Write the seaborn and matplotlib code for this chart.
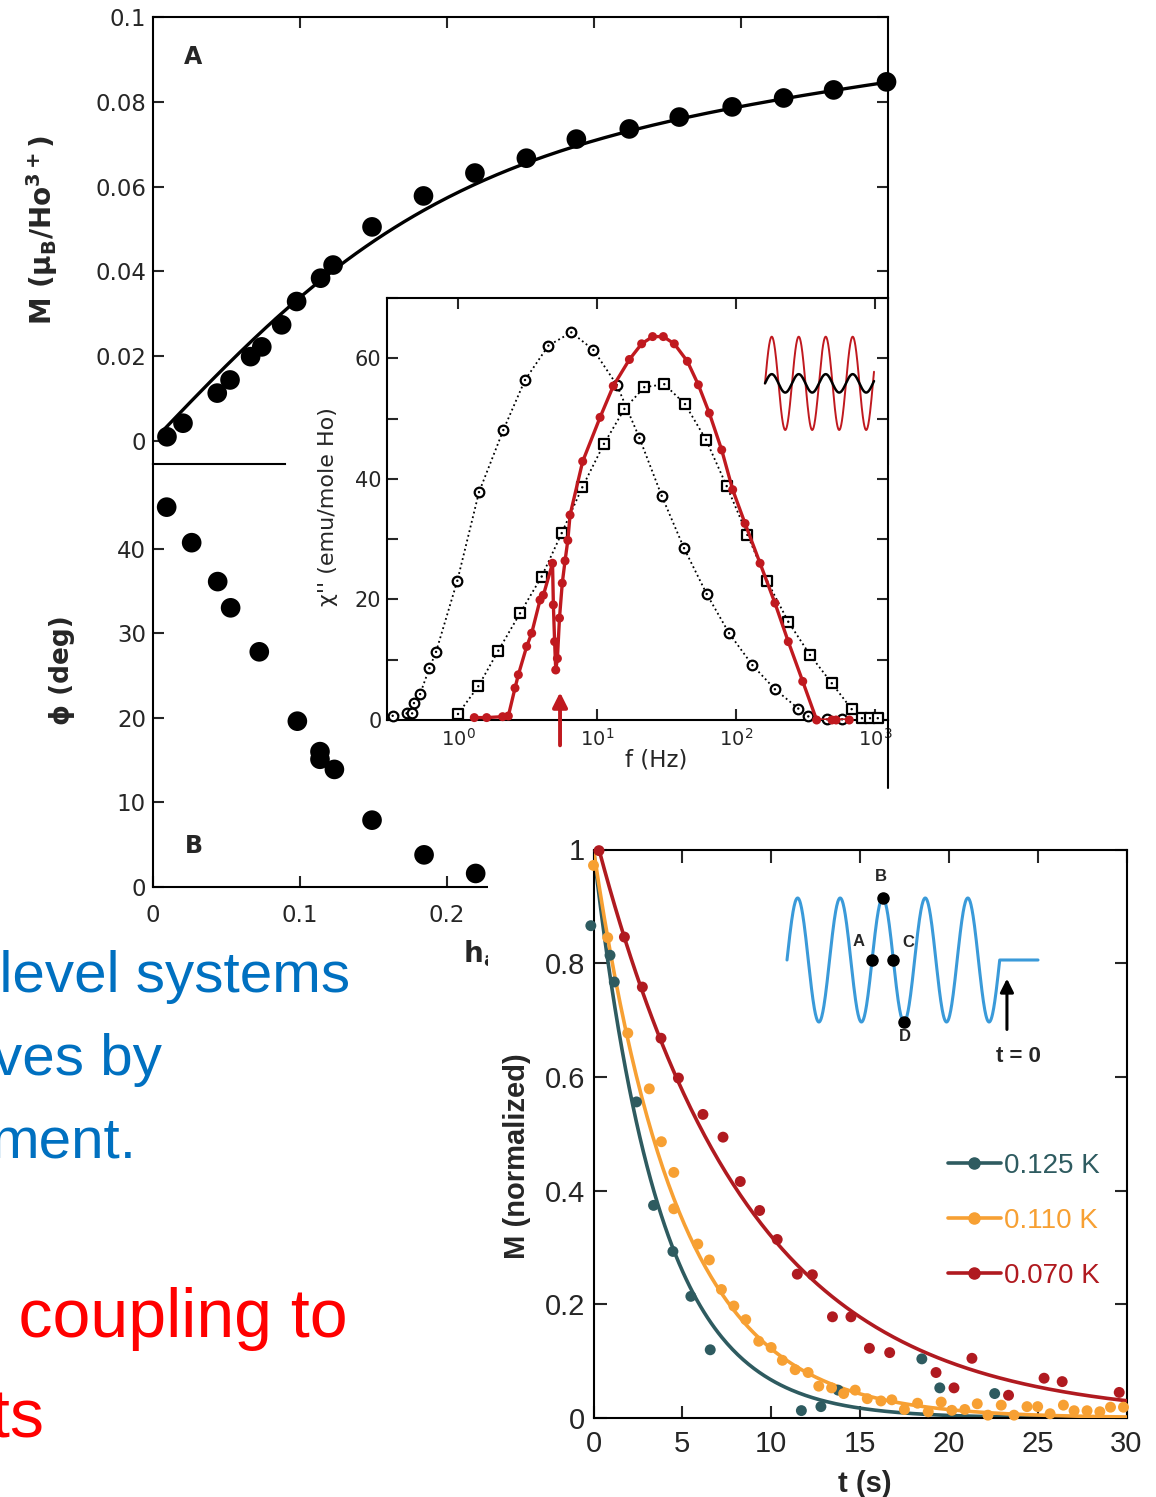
import numpy as np
import matplotlib
matplotlib.use("Agg")
import matplotlib.pyplot as plt
from matplotlib.lines import Line2D
from matplotlib.patches import Rectangle
from matplotlib.ticker import NullLocator
import seaborn as sns

# ---------------- data ----------------
# Panel A: magnetization vs ac field amplitude
h_A = [0.0095, 0.0204, 0.0437, 0.0524, 0.0664, 0.074, 0.0875, 0.0977, 0.114, 0.1225,
       0.149, 0.184, 0.219, 0.254, 0.288, 0.324, 0.358, 0.394, 0.429, 0.463, 0.499]
M_A = [0.001, 0.0042, 0.0113, 0.0144, 0.0199, 0.0222, 0.0274, 0.0329, 0.0384, 0.0415,
       0.0505, 0.0578, 0.0632, 0.0667, 0.0712, 0.0736, 0.0764, 0.0788, 0.0809, 0.0828, 0.0847]
# fitted model  M = a*tanh(b*h) + c*h
fit_a, fit_b, fit_c = 0.064, 5.0, 0.043

# Panel B: phase lag
h_B = [0.0093, 0.0263, 0.044, 0.0528, 0.0723, 0.0982, 0.1136, 0.1136, 0.1234, 0.149, 0.1844, 0.2195]
phi_B = [44.9, 40.7, 36.1, 33.0, 27.8, 19.6, 16.0, 15.1, 13.9, 7.9, 3.8, 1.6]

# chi'' spectra (log10 of frequency in Hz)
circ_log_f = [-0.47, -0.37, -0.33, -0.317, -0.273, -0.206, -0.158, -0.005, 0.151, 0.326, 0.482,
              0.65, 0.815, 0.974, 1.142, 1.305, 1.465, 1.626, 1.789, 1.95, 2.118, 2.28, 2.448,
              2.52, 2.655, 2.763]
circ_chi = [0.7, 1.1, 1.1, 2.8, 4.3, 8.6, 11.3, 23.1, 37.8, 48.1, 56.4, 62.1, 64.3, 61.4, 55.6,
            46.8, 37.2, 28.5, 20.9, 14.4, 9.1, 5.1, 1.9, 0.6, 0.1, 0.1]
sq_log_f = [0.0, 0.146, 0.29, 0.446, 0.602, 0.746, 0.894, 1.05, 1.197, 1.34, 1.484, 1.633, 1.784,
            1.933, 2.082, 2.225, 2.376, 2.532, 2.689, 2.832, 2.906, 2.964, 3.02]
sq_chi = [1.0, 5.6, 11.5, 17.7, 23.8, 31.0, 38.6, 45.8, 51.6, 55.2, 55.7, 52.4, 46.5, 38.8, 30.7,
          23.0, 16.3, 10.8, 6.1, 1.8, 0.3, 0.3, 0.3]
red_log_f = [0.117, 0.206, 0.321, 0.362, 0.41, 0.434, 0.494, 0.53, 0.59, 0.614, 0.68, 0.686, 0.695,
             0.703, 0.715, 0.73, 0.75, 0.77, 0.79, 0.806, 0.897, 1.022, 1.117, 1.233, 1.321, 1.40,
             1.477, 1.556, 1.65, 1.729, 1.808, 1.897, 1.976, 2.065, 2.173, 2.28, 2.376, 2.48, 2.58,
             2.69, 2.72, 2.815]
red_chi = [0.4, 0.4, 0.55, 0.66, 5.3, 7.5, 12.2, 14.4, 19.9, 20.7, 26.0, 19.1, 13.0, 8.3, 10.2, 16.9,
           22.7, 26.4, 29.8, 34.0, 42.9, 50.2, 55.4, 59.8, 62.4, 63.6, 63.6, 62.4, 59.5, 55.6, 50.9,
           44.8, 38.2, 32.6, 26.0, 19.4, 13.0, 6.4, 0.0, 0.0, 0.0, 0.0]
pump_log_f = 0.734

# Relaxation after the drive is switched off
t_125 = [-0.15, 0.93, 1.17, 2.42, 3.38, 4.47, 5.48, 6.57, 11.7, 12.8, 13.77, 18.48, 19.49, 22.58]
M_125 = [0.866, 0.814, 0.767, 0.556, 0.374, 0.293, 0.214, 0.120, 0.013, 0.020, 0.049, 0.104, 0.053, 0.043]
t_110 = [0.0, 0.8, 1.93, 3.14, 3.82, 4.52, 4.52, 5.87, 6.52, 7.2, 7.9, 8.57, 9.3, 10.0, 10.63, 11.35,
         12.08, 12.68, 13.4, 14.08, 14.73, 15.41, 16.18, 16.79, 17.5, 18.24, 18.84, 19.57, 20.17,
         20.9, 21.6, 22.2, 22.95, 23.67, 24.4, 25.0, 25.7, 26.45, 27.05, 27.78, 28.5, 29.1, 29.83]
M_110 = [0.972, 0.845, 0.677, 0.579, 0.486, 0.432, 0.368, 0.306, 0.278, 0.226, 0.197, 0.173, 0.135,
         0.124, 0.1015, 0.085, 0.080, 0.056, 0.053, 0.043, 0.049, 0.034, 0.030, 0.032, 0.015, 0.026,
         0.011, 0.028, 0.0135, 0.015, 0.025, 0.005, 0.0226, 0.005, 0.020, 0.020, 0.0075, 0.0226,
         0.0128, 0.0128, 0.011, 0.019, 0.019]
t_070 = [0.31, 1.74, 2.75, 3.8, 4.78, 6.16, 7.29, 8.26, 9.35, 10.34, 11.47, 12.32, 13.45, 14.49,
         15.53, 16.67, 19.28, 20.29, 21.3, 23.36, 25.36, 26.38, 29.59]
M_070 = [0.998, 0.846, 0.758, 0.668, 0.598, 0.534, 0.494, 0.416, 0.365, 0.314, 0.253, 0.252, 0.178,
         0.178, 0.1226, 0.115, 0.080, 0.053, 0.105, 0.040, 0.070, 0.064, 0.045]
# exponential fits  M = A*exp(-t/tau)
temps = ["0.125 K", "0.110 K", "0.070 K"]
fit_A = [1.0, 1.0, 1.037]
fit_tau = [3.7, 4.75, 8.5]
fit_t0 = [0.0, 0.0, 0.31]

# ---------------- style ----------------
sns.set_style("ticks")
plt.rcParams["font.family"] = ["DejaVu Sans"]
plt.rcParams["mathtext.fontset"] = "dejavusans"
plt.rcParams["mathtext.default"] = "bf"
plt.rcParams["axes.linewidth"] = 1.5
plt.rcParams["axes.edgecolor"] = "black"

W, H = 1156, 1497


def box(l, t, r, b):
    return [l / W, 1 - b / H, (r - l) / W, (b - t) / H]


def fpt(x, y):
    return (x / W, 1 - y / H)


teal, orange, dred = "#2E5B60", "#F7A033", "#B01A20"
inset_red = "#C0191F"
wave_blue = "#3A9AD9"

fig = plt.figure(figsize=(W / 100, H / 100), dpi=100)
fig.patch.set_facecolor("white")

# ---------------- panel A ----------------
axA = fig.add_axes(box(153, 17, 888, 464), zorder=0)
axA.set_facecolor("none")
h_fit = np.linspace(0.006, 0.5, 300)
M_fit = fit_a * np.tanh(fit_b * h_fit) + fit_c * h_fit
sns.lineplot(x=h_fit, y=M_fit, ax=axA, color="black", lw=2.4)
sns.scatterplot(x=h_A, y=M_A, ax=axA, color="black", s=200, edgecolor="none",
                zorder=3, clip_on=False)
axA.set_xlim(0, 0.5)
axA.set_ylim(-0.00542, 0.1)
axA.set_yticks([0, 0.02, 0.04, 0.06, 0.08, 0.1])
axA.set_yticklabels(["0", "0.02", "0.04", "0.06", "0.08", "0.1"])
axA.set_xticks([0.1, 0.2, 0.3, 0.4])
axA.tick_params(axis="x", bottom=False, top=True, labelbottom=False, direction="in",
                length=8, width=1.5)
axA.tick_params(axis="y", left=True, right=True, direction="in", length=8, width=1.5,
                labelsize=16.5, pad=5)
axA.spines["bottom"].set_bounds(0, (285 - 153) / 1470)
axA.set_xlabel("")
axA.set_ylabel("")
axA.text(0.055, 0.91, "A", transform=axA.transAxes, fontsize=17, fontweight="bold",
         ha="center", va="center")

# ---------------- inset: chi'' spectra ----------------
axI = fig.add_axes(box(387, 298, 888, 720), zorder=0.3)
axI.set_facecolor("white")
axI.set_xscale("log")
f_circ = 10 ** np.array(circ_log_f)
f_sq = 10 ** np.array(sq_log_f)
f_red = 10 ** np.array(red_log_f)
sns.lineplot(x=f_circ, y=circ_chi, ax=axI, color="black", lw=1.3, linestyle=":",
             sort=False, estimator=None)
sns.lineplot(x=f_sq, y=sq_chi, ax=axI, color="black", lw=1.3, linestyle=":",
             sort=False, estimator=None)
sns.scatterplot(x=f_circ, y=circ_chi, ax=axI, marker="o", s=48, facecolor="white",
                edgecolor="black", linewidth=1.6, zorder=3, clip_on=False)
sns.scatterplot(x=f_sq, y=sq_chi, ax=axI, marker="s", s=52, facecolor="white",
                edgecolor="black", linewidth=1.6, zorder=3, clip_on=False)
sns.scatterplot(x=np.concatenate([f_circ, f_sq]), y=circ_chi + sq_chi, ax=axI,
                marker="o", s=3, color="black", edgecolor="none", zorder=4, clip_on=False)
sns.lineplot(x=f_red, y=red_chi, ax=axI, color=inset_red, lw=2.4, sort=False,
             estimator=None, zorder=5)
sns.scatterplot(x=f_red, y=red_chi, ax=axI, color=inset_red, s=42, edgecolor="none",
                zorder=6, clip_on=False)
axI.set_xlim(0.3084, 1240)
axI.set_ylim(0, 70)
axI.set_yticks(range(0, 71, 10))
axI.set_yticklabels(["0", "", "20", "", "40", "", "60", ""])
axI.set_xticks([1, 10, 100, 1000])
axI.set_xticklabels([r"$\mathrm{10^{0}}$", r"$\mathrm{10^{1}}$", r"$\mathrm{10^{2}}$",
                     r"$\mathrm{10^{3}}$"])
axI.xaxis.set_minor_locator(NullLocator())
axI.tick_params(axis="x", top=True, bottom=True, direction="in", length=8, width=1.5,
                labelsize=14, pad=6)
axI.tick_params(axis="y", left=True, right=True, direction="in", length=8, width=1.5,
                labelsize=15, pad=4)
axI.set_xlabel("")
axI.set_ylabel("")
pump_f = 10 ** pump_log_f
axI.annotate("", xy=(pump_f, 4.6), xytext=(pump_f, -4.2),
             arrowprops=dict(arrowstyle="-|>", color=inset_red, lw=2.8, mutation_scale=22,
                             shrinkA=0, shrinkB=0),
             annotation_clip=False)
fig.add_artist(Line2D([888 / W, 888 / W], [1 - 720 / H, 1 - 788 / H],
                      transform=fig.transFigure, color="black", lw=1.5))

# drive / response sketch
axS = fig.add_axes(box(765, 336.7, 874, 430), zorder=0.35)
axS.set_axis_off()
ph = np.linspace(0, 4.04, 500)
axS.plot(ph, np.sin(2 * np.pi * ph), color=inset_red, lw=1.4, clip_on=False)
axS.plot(ph, 0.197 * np.sin(2 * np.pi * ph), color="black", lw=1.8, clip_on=False)
axS.set_xlim(0, 4.04)
axS.set_ylim(-1, 1)

# ---------------- panel B ----------------
axB = fig.add_axes(box(153, 464, 888, 887), zorder=0.6)
axB.set_facecolor("none")
sns.scatterplot(x=h_B, y=phi_B, ax=axB, color="black", s=200, edgecolor="none",
                zorder=3, clip_on=False)
axB.set_xlim(0, 0.5)
axB.set_ylim(0, 50)
axB.spines["top"].set_visible(False)
axB.spines["right"].set_visible(False)
axB.spines["bottom"].set_bounds(0, 0.228)
axB.set_yticks([0, 10, 20, 30, 40])
axB.set_xticks([0, 0.1, 0.2])
axB.set_xticklabels(["0", "0.1", "0.2"])
axB.tick_params(axis="x", direction="in", length=8, width=1.5, labelsize=16.5, pad=12)
axB.tick_params(axis="y", direction="in", length=8, width=1.5, labelsize=16.5, pad=5)
axB.set_xlabel("")
axB.set_ylabel("")
axB.text(0.055, 0.098, "B", transform=axB.transAxes, fontsize=17, fontweight="bold",
         ha="center", va="center")

fig.text(*fpt(42, 230), r"M ($\mu_{B}$/Ho$^{3+}$)", rotation=90, ha="center",
         va="center", fontsize=20, fontweight="bold")
fig.text(*fpt(62, 670), "ϕ (deg)", rotation=90, ha="center", va="center", fontsize=19,
         fontweight="bold")
fig.text(*fpt(328, 507), "χ'' (emu/mole Ho)", rotation=90, ha="center", va="center",
         fontsize=16)
fig.text(*fpt(656, 760), "f (Hz)", ha="center", va="center", fontsize=16.5)
fig.text(*fpt(463, 962), r"h$_{a}$", ha="left", va="baseline", fontsize=20,
         fontweight="bold", zorder=0.5)

# white backing of the relaxation figure
fig.add_artist(Rectangle(fpt(488, 1497), (1156 - 488) / W, (1497 - 830) / H,
                         transform=fig.transFigure, facecolor="white", edgecolor="none",
                         zorder=1))

# ---------------- relaxation panel ----------------
axD = fig.add_axes(box(593.5, 849.5, 1126.5, 1418), zorder=2)
axD.set_facecolor("white")
series = [(t_125, M_125, teal), (t_110, M_110, orange), (t_070, M_070, dred)]
for i, (tt, mm, col) in enumerate(series):
    t_fit = np.linspace(fit_t0[i], 30, 300)
    m_fit = fit_A[i] * np.exp(-t_fit / fit_tau[i])
    sns.lineplot(x=t_fit, y=m_fit, ax=axD, color=col, lw=2.6, zorder=2 + i)
for i, (tt, mm, col) in enumerate(series):
    sns.scatterplot(x=tt, y=mm, ax=axD, color=col, s=62, edgecolor="none",
                    zorder=5 + i, clip_on=False)
axD.set_xlim(0, 30)
axD.set_ylim(0, 1)
axD.set_xticks(range(0, 31, 5))
axD.set_yticks([0, 0.2, 0.4, 0.6, 0.8, 1.0])
axD.set_yticklabels(["0", "0.2", "0.4", "0.6", "0.8", "1"])
axD.tick_params(axis="x", top=True, direction="in", length=9, width=1.5, labelsize=21, pad=9)
axD.tick_params(axis="y", right=True, direction="in", length=9, width=1.5, labelsize=21, pad=6)
for lab in axD.get_xticklabels() + axD.get_yticklabels():
    lab.set_fontfamily("Liberation Sans")
axD.set_xlabel("")
axD.set_ylabel("")
handles = [Line2D([], [], color=c, lw=2.6, marker="o", ms=8) for _, _, c in series]
leg = axD.legend(handles, temps, loc="center left", bbox_to_anchor=fpt(948, 1221),
                 bbox_transform=fig.transFigure, frameon=False, borderpad=0,
                 borderaxespad=0, handlelength=1.9, handletextpad=0.1, labelspacing=1.05,
                 numpoints=1, prop={"family": "Liberation Sans", "size": 20})
for txt, (_, _, c) in zip(leg.get_texts(), series):
    txt.set_color(c)

fig.text(*fpt(517, 1156), "M (normalized)", rotation=90, ha="center", va="center",
         fontsize=21, fontweight="bold", family="Liberation Sans")
fig.text(*fpt(865, 1484), "t (s)", ha="center", va="center", fontsize=21,
         fontweight="bold", family="Liberation Sans")

# drive waveform sketch with switch-off point
axW = fig.add_axes(box(787, 898, 1038, 1022), zorder=3)
axW.set_axis_off()
axW.set_xlim(0, 5.9)
axW.set_ylim(-1, 1)
ph = np.linspace(0, 5, 600)
axW.plot(np.append(ph, 5.9), np.append(np.sin(2 * np.pi * ph), 0.0), color=wave_blue,
         lw=2.2, clip_on=False)
marks_ph = [2.0, 2.25, 2.5, 2.75]
axW.plot(marks_ph, np.sin(2 * np.pi * np.array(marks_ph)), "o", color="black", ms=8,
         clip_on=False)
for lbl, x, y in [("A", 1.69, 0.30), ("B", 2.2, 1.34), ("C", 2.84, 0.29), ("D", 2.78, -1.23)]:
    axW.text(x, y, lbl, ha="center", va="center", fontsize=12, fontweight="bold",
             family="Liberation Sans")
axW.annotate("", xy=(5.17, -0.3), xytext=(5.17, -1.12),
             arrowprops=dict(arrowstyle="-|>", color="black", lw=2.2, mutation_scale=20,
                             shrinkA=0, shrinkB=0),
             annotation_clip=False)
axW.text(5.44, -1.56, "t = 0", ha="center", va="center", fontsize=16, fontweight="bold",
         family="Liberation Sans")

# ---------------- slide text ----------------
blue_txt, red_txt = "#0070C0", "#FF0000"
for s, x, y in [("-level systems", 350, 991.7), ("ves by", 162, 1075), ("ment.", 136, 1158)]:
    fig.text(*fpt(x, y), s, ha="right", va="baseline", fontsize=42, color=blue_txt,
             family="Liberation Sans")
for s, x, y in [("r coupling to", 348, 1337), ("ts", 44, 1438)]:
    fig.text(*fpt(x, y), s, ha="right", va="baseline", fontsize=49, color=red_txt,
             family="Liberation Sans")

fig.savefig("out.png", dpi=100, facecolor="white")
